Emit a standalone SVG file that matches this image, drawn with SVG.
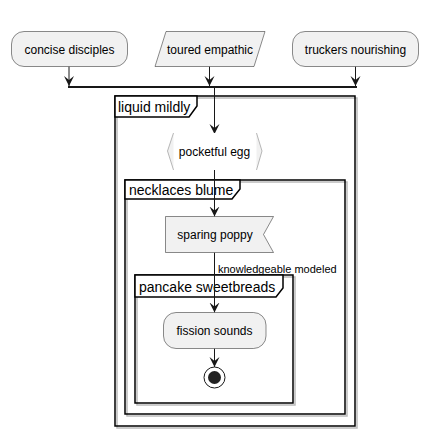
<svg xmlns="http://www.w3.org/2000/svg" width="428" height="436" viewBox="0 0 428 436">
<defs>
<style>
.node{fill:#F1F1F1;stroke:#181818;stroke-width:0.5}
.t{font-family:"Liberation Sans",Arial,sans-serif;font-size:12px;fill:#000}
.ft{font-family:"Liberation Sans",Arial,sans-serif;font-size:14px;fill:#000}
.lbl{font-family:"Liberation Sans",Arial,sans-serif;font-size:11px;fill:#000}
.frame{fill:none;stroke:#000;stroke-width:1.5}
.shadow{fill:none;stroke:#BBBBBB;stroke-width:1.5}
.tab{fill:#fff;stroke:#000;stroke-width:1.5}
.ln{fill:none;stroke:#181818;stroke-width:1}
</style>
<marker id="arr" viewBox="0 0 12 12" refX="10" refY="6" markerWidth="12" markerHeight="12" markerUnits="userSpaceOnUse" orient="auto">
<path d="M0,1 L10,6 L0,11 L4,6 Z" fill="#181818"/>
</marker>
</defs>
<rect width="428" height="436" fill="#fff"/>

<g id="frame-liquid">
<rect class="shadow" x="117" y="98" width="240" height="330"/>
<rect x="115" y="96" width="240" height="330" fill="#fff" class="frame"/>
<path class="tab" d="M115,96 L197,96 L197,106 L189,117 L115,117 Z"/>
<text class="ft" x="118" y="112">liquid mildly</text>
</g>
<g id="frame-necklaces">
<rect class="shadow" x="127" y="182" width="220" height="234"/>
<rect x="125" y="180" width="220" height="234" fill="#fff" class="frame"/>
<path class="tab" d="M125,180 L240,180 L240,189 L232,199 L125,199 Z"/>
<text class="ft" x="129" y="195">necklaces blume</text>
</g>
<g id="frame-pancake">
<rect class="shadow" x="137" y="277" width="158" height="128"/>
<rect x="135" y="275" width="158" height="128" fill="#fff" class="frame"/>
<path class="tab" d="M135,275 L283,275 L283,288 L276,297 L135,297 Z"/>
<text class="ft" x="139" y="292">pancake sweetbreads</text>
</g>

<g id="connectors">
<line class="ln" x1="69" y1="66.5" x2="69" y2="86" marker-end="url(#arr)"/>
<line class="ln" x1="209.5" y1="66.5" x2="209.5" y2="86" marker-end="url(#arr)"/>
<line class="ln" x1="355.5" y1="66.5" x2="355.5" y2="86" marker-end="url(#arr)"/>
<line x1="68" y1="87" x2="357" y2="87" stroke="#181818" stroke-width="2"/>
<line class="ln" x1="214.5" y1="88" x2="214.5" y2="134" marker-end="url(#arr)"/>
<line class="ln" x1="214.5" y1="169.5" x2="214.5" y2="216.5" marker-end="url(#arr)"/>
<line class="ln" x1="214.5" y1="252.5" x2="214.5" y2="312.5" marker-end="url(#arr)"/>
<text class="lbl" x="218" y="273">knowledgeable modeled</text>
<line class="ln" x1="214.5" y1="348.5" x2="214.5" y2="367" marker-end="url(#arr)"/>
</g>

<g id="concise-disciples">
<rect class="node" x="11.5" y="31.5" width="116" height="35" rx="12.5"/>
<text class="t" x="69.5" y="53.5" text-anchor="middle">concise disciples</text>
</g>
<g id="toured-empathic">
<polygon class="node" points="166,31.5 265,31.5 254,66.5 155,66.5"/>
<text class="t" x="210" y="53.5" text-anchor="middle">toured empathic</text>
</g>
<g id="truckers-nourishing">
<rect class="node" x="292.5" y="31.5" width="126" height="35" rx="12.5"/>
<text class="t" x="355.5" y="53.5" text-anchor="middle">truckers nourishing</text>
</g>
<g id="pocketful-egg">
<polygon points="173.5,133 167.5,151 173.5,170 256.5,170 262,151 256.5,133" fill="#fff"/>
<polygon points="173.5,133 167.5,151 173.5,170" fill="#F1F1F1" stroke="none"/>
<polygon points="256.5,133 262,151 256.5,170" fill="#F1F1F1" stroke="none"/>
<polyline points="173.5,133 167.5,151 173.5,170" fill="none" stroke="#999" stroke-width="0.7"/>
<polyline points="256.5,133 262,151 256.5,170" fill="none" stroke="#999" stroke-width="0.7"/>
<text class="t" x="214.5" y="156" text-anchor="middle">pocketful egg</text>
</g>
<g id="sparing-poppy">
<polygon class="node" points="165.5,216.5 273.5,216.5 263.5,234.5 273.5,252.5 165.5,252.5"/>
<text class="t" x="215" y="238.5" text-anchor="middle">sparing poppy</text>
</g>
<g id="fission-sounds">
<rect class="node" x="163.5" y="312.5" width="102.5" height="36" rx="12.5"/>
<text class="t" x="214.5" y="334.5" text-anchor="middle">fission sounds</text>
</g>
<g id="stop">
<circle cx="214.5" cy="377.5" r="10.5" fill="#fff" stroke="#181818" stroke-width="1"/>
<circle cx="214.5" cy="377.5" r="6.5" fill="#222"/>
</g>
</svg>
